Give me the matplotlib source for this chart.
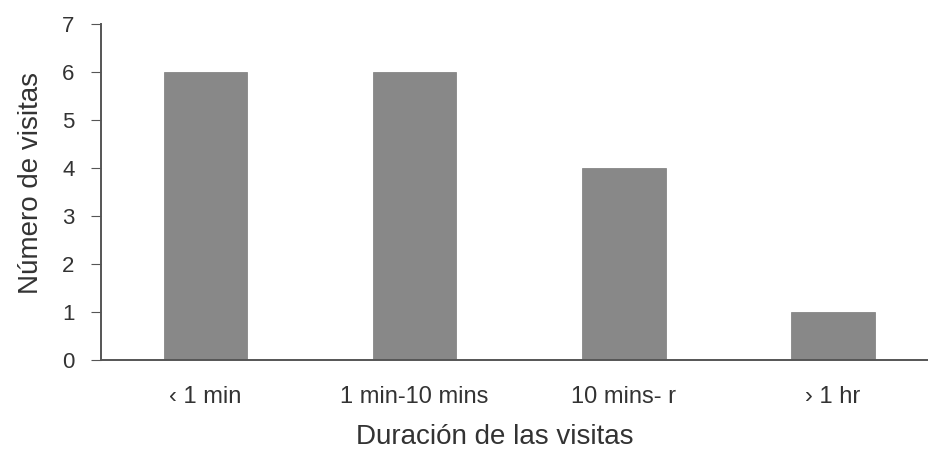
import matplotlib
matplotlib.use("Agg")
import matplotlib.pyplot as plt

categories = ["‹ 1 min", "1 min-10 mins", "10 mins- r", "› 1 hr"]
values = [6, 6, 4, 1]
yticks = [0, 1, 2, 3, 4, 5, 6, 7]

plt.rcParams['font.family'] = ['Liberation Sans', 'DejaVu Sans']

fig = plt.figure(figsize=(9.29, 4.51), dpi=100)
ax = fig.add_axes([101/929, 91/451, 1 - 101/929, 336/451])

x = list(range(len(categories)))
ax.bar(x, values, width=0.4, color='#888888', edgecolor='#7a7a7a', linewidth=0.5)

ax.set_xlim(-0.5, 3.46)
ax.set_ylim(0, 7)
ax.set_yticks(yticks)
ax.set_xticks(x)
ax.set_xticklabels(categories, fontsize=17, color='#333333')
ax.tick_params(axis='y', labelsize=16, labelcolor='#333333', direction='out', length=7, color='#555555', pad=12)
ax.tick_params(axis='x', length=0, pad=19)

for s in ['top', 'right']:
    ax.spines[s].set_visible(False)
for s in ['left', 'bottom']:
    ax.spines[s].set_color('#555555')
    ax.spines[s].set_linewidth(1.4)

ax.set_ylabel("Número de visitas", fontsize=20, color='#333333', va='center')
ax.yaxis.set_label_coords(-0.0845, 0.527)
ax.set_xlabel("Duración de las visitas", fontsize=20, color='#333333', va='center')
ax.xaxis.set_label_coords(0.476, -0.229)

fig.savefig("out.png", dpi=100)
